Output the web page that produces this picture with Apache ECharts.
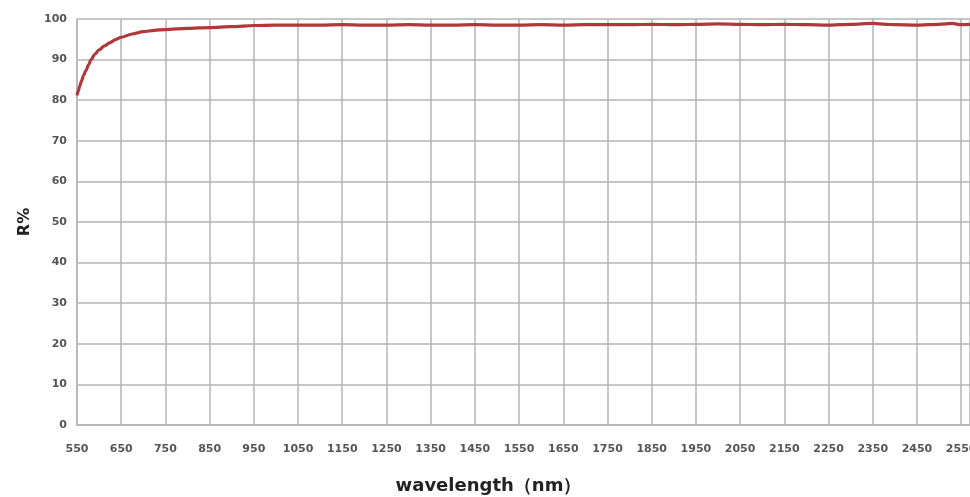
<!DOCTYPE html>
<html>
<head>
<meta charset="utf-8">
<script src="https://cdn.jsdelivr.net/npm/echarts@6/dist/echarts.min.js"></script>
<style>
html,body{margin:0;padding:0;background:#fff;}
#c{width:970px;height:497px;}
</style>
</head>
<body>
<div id="c"></div>
<script>
const wavelengths = [550,553,556,560,565,570,576,582,590,600,612,625,637,650,675,700,725,750,800,850,900,950,1000,1050,1100,1150,1200,1250,1300,1350,1400,1450,1500,1550,1600,1650,1700,1750,1800,1850,1900,1950,2000,2050,2100,2150,2200,2250,2300,2350,2380,2400,2450,2500,2530,2550,2570];
const reflectance = [81.2,82.3,83.4,84.7,86.1,87.3,88.7,90.0,91.3,92.4,93.4,94.2,94.9,95.5,96.3,96.9,97.2,97.4,97.7,97.9,98.1,98.4,98.5,98.5,98.5,98.6,98.5,98.5,98.6,98.5,98.5,98.6,98.5,98.5,98.6,98.5,98.6,98.6,98.6,98.7,98.6,98.7,98.8,98.7,98.6,98.7,98.6,98.5,98.7,98.9,98.7,98.6,98.5,98.7,98.9,98.6,98.7];
const xTitle = 'wavelength（nm）';
const yTitle = 'R%';

const chart = echarts.init(document.getElementById('c'));
const gridColor = '#b4b4b4';
chart.setOption({
  animation: false,
  grid: {left: 77, top: 19, right: 0, bottom: 72, containLabel: false, outerBoundsMode: 'none'},
  xAxis: {
    type: 'value', min: 550, max: 2570, interval: 100,
    name: xTitle, nameLocation: 'middle', nameGap: 52,
    nameTextStyle: {fontFamily: 'DejaVu Sans', fontWeight: 'bold', fontSize: 18, color: '#222', padding: [0, 70, 0, 0]},
    axisLine: {show: true, lineStyle: {color: gridColor, width: 1.5}},
    axisTick: {show: false},
    axisLabel: {showMaxLabel: false, margin: 19, fontFamily: 'DejaVu Sans', fontWeight: 'bold', fontSize: 11, color: '#555',
      formatter: v => String(v)},
    splitLine: {show: true, lineStyle: {color: gridColor, width: 1.5}}
  },
  yAxis: {
    type: 'value', min: 0, max: 100, interval: 10,
    name: yTitle, nameLocation: 'middle', nameGap: 38, nameRotate: 90,
    nameTextStyle: {fontFamily: 'DejaVu Sans', fontWeight: 'bold', fontSize: 16, color: '#222'},
    axisLine: {show: true, lineStyle: {color: gridColor, width: 1.5}},
    axisTick: {show: false},
    axisLabel: {margin: 10, fontFamily: 'DejaVu Sans', fontWeight: 'bold', fontSize: 11, color: '#555'},
    splitLine: {show: true, lineStyle: {color: gridColor, width: 1.5}}
  },
  series: [{
    type: 'line',
    data: wavelengths.map((w, i) => [w, reflectance[i]]),
    showSymbol: false,
    smooth: 0.3,
    smoothMonotone: 'x',
    lineStyle: {color: '#b0383a', width: 3.2},
    clip: true
  }]
});
</script>
</body>
</html>
